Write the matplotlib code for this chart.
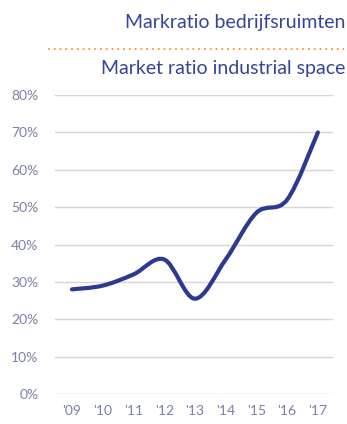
import numpy as np
import matplotlib.pyplot as plt
from matplotlib.path import Path
from matplotlib.patches import PathPatch
from matplotlib.lines import Line2D

years = ["'09", "'10", "'11", "'12", "'13", "'14", "'15", "'16", "'17"]
ratio = [28, 29, 32, 36, 25.5, 36, 48.5, 52, 70]
yticks = [0, 10, 20, 30, 40, 50, 60, 70, 80]

title_nl = "Markratio bedrijfsruimten"
title_en = "Market ratio industrial space"

navy = "#2b3990"
title_col = "#35449a"
label_col = "#7b80a6"

plt.rcParams['font.family'] = ['Lato', 'DejaVu Sans']

fig = plt.figure(figsize=(3.47, 4.24), dpi=100)
ax = fig.add_axes([0.1585, 0.0708, 0.801, 0.705])

x = np.arange(len(years))
y = np.array(ratio, dtype=float)

# smooth line via Catmull-Rom segments turned into cubic bezier curves
verts = [(x[0], y[0])]
codes = [Path.MOVETO]
px = np.concatenate([[x[0]], x, [x[-1]]])
py = np.concatenate([[y[0]], y, [y[-1]]])
for i in range(1, len(px) - 2):
    c1 = (px[i] + (px[i + 1] - px[i - 1]) / 6, py[i] + (py[i + 1] - py[i - 1]) / 6)
    c2 = (px[i + 1] - (px[i + 2] - px[i]) / 6, py[i + 1] - (py[i + 2] - py[i]) / 6)
    verts += [c1, c2, (px[i + 1], py[i + 1])]
    codes += [Path.CURVE4] * 3
ax.add_patch(PathPatch(Path(verts, codes), fill=False, edgecolor=navy,
                       lw=3, capstyle='round', zorder=3))

ax.set_xlim(-0.553, 8.49)
ax.set_ylim(0, 80)
ax.set_yticks(yticks)
ax.set_yticklabels([f"{v}%" for v in yticks])
ax.set_xticks(x)
ax.set_xticklabels(years)
ax.grid(axis='y', color='#d6d6d6', lw=1)
ax.set_axisbelow(True)
for s in ax.spines.values():
    s.set_visible(False)
ax.tick_params(length=0, labelsize=10, labelcolor=label_col)
ax.tick_params(axis='y', pad=12)
ax.tick_params(axis='x', pad=8)

fig.text(0.994, 0.946, title_nl, ha='right', va='center', fontsize=14,
         color=title_col)
fig.text(0.994, 0.838, title_en, ha='right', va='center', fontsize=14,
         color=title_col)
fig.add_artist(Line2D([0.138, 0.99], [0.884, 0.884], transform=fig.transFigure,
                      color='#f39a2b', lw=1.3, ls=(0, (1, 2.2))))

fig.savefig("out.png", dpi=100)
